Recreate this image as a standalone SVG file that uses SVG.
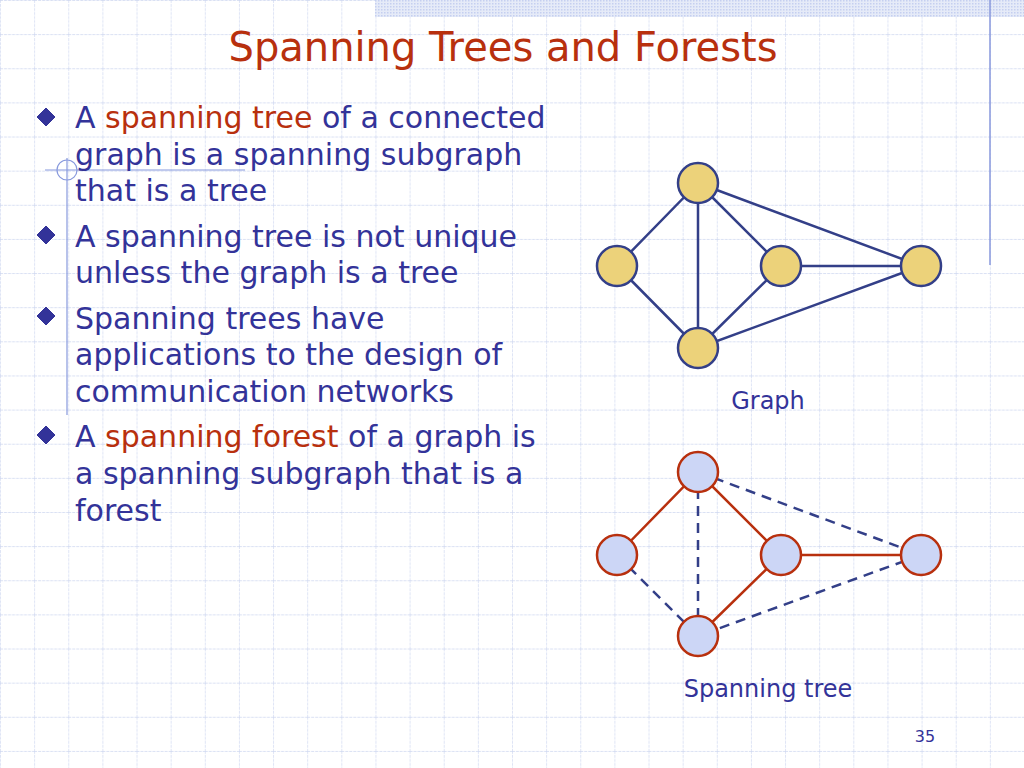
<svg xmlns="http://www.w3.org/2000/svg" width="1024" height="768" viewBox="0 0 1024 768">
<defs>
<pattern id="grid" width="34.133" height="34.133" patternUnits="userSpaceOnUse">
<path d="M0 0H34.133M0 0V34.133" fill="none" stroke="#cdd6f0" stroke-width="1.3" stroke-dasharray="3 1"/>
</pattern>
<pattern id="dots" width="3" height="3" patternUnits="userSpaceOnUse">
<rect width="3" height="3" fill="#e6ebf8"/><rect width="1.5" height="1.5" fill="#c5cff0"/>
</pattern>
<style>
.t{font-family:"DejaVu Sans",Verdana,sans-serif;font-size:30px;fill:#333399}
.r{fill:#b8300e}
.e{stroke:#333f88;stroke-width:2.5;fill:none}
.d{stroke:#333f88;stroke-width:2.5;stroke-dasharray:10 7;fill:none}
.s{stroke:#b8300e;stroke-width:2.5;fill:none}
.g{fill:#ecd27a;stroke:#333f88;stroke-width:2.5}
.b{fill:#ccd6f6;stroke:#b8300e;stroke-width:2.5}
</style>
</defs>
<rect width="1024" height="768" fill="#fff"/>
<rect width="1024" height="768" fill="url(#grid)"/>
<rect x="375" y="0" width="649" height="17" fill="url(#dots)"/>
<line x1="990" y1="0" x2="990" y2="265" stroke="#8899dd" stroke-width="1.5"/>
<line x1="45" y1="170" x2="245" y2="170" stroke="#8899dd" stroke-width="1.2"/>
<line x1="67" y1="158" x2="67" y2="415" stroke="#8899dd" stroke-width="1.2"/>
<circle cx="67" cy="170" r="10" fill="none" stroke="#8899dd" stroke-width="1.2"/>
<text x="503" y="61" text-anchor="middle" font-family="DejaVu Sans,Verdana,sans-serif" font-size="40" fill="#b8300e">Spanning Trees and Forests</text>
<g id="bullets" fill="#333399" stroke="#ffffff" stroke-width="1">
<path d="M46 107l10 10-10 10-10-10z"/><path d="M46 225l10 10-10 10-10-10z"/><path d="M46 306l10 10-10 10-10-10z"/><path d="M46 425l10 10-10 10-10-10z"/>
</g>
<g id="text" class="t">
<text x="75" y="128">A <tspan class="r">spanning tree</tspan> of a connected</text>
<text x="75" y="165">graph is a spanning subgraph</text>
<text x="75" y="201">that is a tree</text>
<text x="75" y="247">A spanning tree is not unique</text>
<text x="75" y="283">unless the graph is a tree</text>
<text x="75" y="329">Spanning trees have</text>
<text x="75" y="365">applications to the design of</text>
<text x="75" y="402">communication networks</text>
<text x="75" y="447">A <tspan class="r">spanning forest</tspan> of a graph is</text>
<text x="75" y="484">a spanning subgraph that is a</text>
<text x="75" y="521">forest</text>
</g>
<g id="connectors">
<path class="e" d="M698 183L617 266M698 183V348M698 183L781 266M698 183L921 266M617 266L698 348M781 266H921M781 266L698 348M921 266L698 348"/>
<path class="s" d="M698 472L617 555M698 472L781 555M781 555H921M781 555L698 636"/>
<path class="d" d="M698 472V636M698 472L921 555M617 555L698 636M921 555L698 636"/>
</g>
<g id="graph">
<circle class="g" cx="698" cy="183" r="20"/><circle class="g" cx="617" cy="266" r="20"/><circle class="g" cx="781" cy="266" r="20"/><circle class="g" cx="921" cy="266" r="20"/><circle class="g" cx="698" cy="348" r="20"/>
</g>
<g id="tree">
<circle class="b" cx="698" cy="472" r="20"/><circle class="b" cx="617" cy="555" r="20"/><circle class="b" cx="781" cy="555" r="20"/><circle class="b" cx="921" cy="555" r="20"/><circle class="b" cx="698" cy="636" r="20"/>
</g>
<text x="768" y="409" text-anchor="middle" font-family="DejaVu Sans,Verdana,sans-serif" font-size="24" fill="#333399">Graph</text>
<text x="768" y="697" text-anchor="middle" font-family="DejaVu Sans,Verdana,sans-serif" font-size="24" fill="#333399">Spanning tree</text>
<text x="925" y="742" text-anchor="middle" font-family="DejaVu Sans,Verdana,sans-serif" font-size="16" fill="#333399">35</text>
</svg>
